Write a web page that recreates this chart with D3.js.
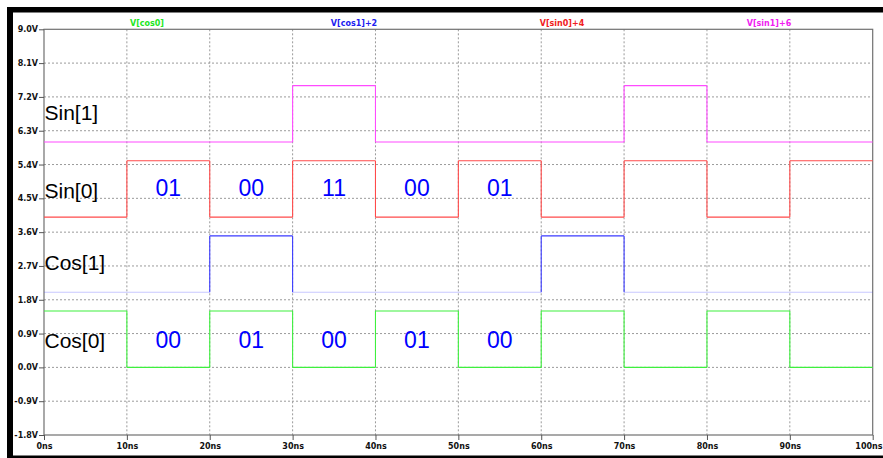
<!DOCTYPE html>
<html>
<head>
<meta charset="utf-8">
<script src="https://cdn.jsdelivr.net/npm/d3@7"></script>
<style>
  html, body { margin: 0; padding: 0; background: #fff; }
  svg { display: block; }
  .tick-label { font-family: "DejaVu Sans", sans-serif; font-weight: bold; font-size: 8px; fill: #111; }
  .trace-name { font-family: "DejaVu Sans", sans-serif; font-weight: bold; font-size: 8px; }
  .row-label { font-family: "Liberation Sans", Arial, sans-serif; font-size: 21px; fill: #000; }
  .code { font-family: "Liberation Sans", Arial, sans-serif; font-size: 23px; fill: #0000ff; }
</style>
</head>
<body>
<script>
// Time segments (ns): each trace value holds from segStart to segStart + 10
const segStart = [0, 10, 20, 30, 40, 50, 60, 70, 80, 90];
const segLen = 10;

// Raw node voltages per segment (V)
const cos0 = [1.5, 0, 1.5, 0, 1.5, 0, 1.5, 0, 1.5, 0];
const cos1 = [0, 0, 1.5, 0, 0, 0, 1.5, 0, 0, 0];
const sin0 = [0, 1.5, 0, 1.5, 0, 1.5, 0, 1.5, 0, 1.5];
const sin1 = [0, 0, 0, 1.5, 0, 0, 0, 1.5, 0, 0];

// Trace expressions and their display offsets (V)
const traceNames = ["V[cos0]", "V[cos1]+2", "V[sin0]+4", "V[sin1]+6"];
const traceOffsets = [0, 2, 4, 6];
const traceColors = ["#3ef03e", "#3a3aff", "#ff4a4a", "#ff4aff"];
const lowOpacity = [1, 0.28, 1, 1];
const nameColors = ["#22e622", "#2020f0", "#f02020", "#f020f0"];
const nameX = [147, 354, 562, 769];

// Axis ticks
const yTicks = [9.0, 8.1, 7.2, 6.3, 5.4, 4.5, 3.6, 2.7, 1.8, 0.9, 0.0, -0.9, -1.8];
const yTickLabels = ["9.0V", "8.1V", "7.2V", "6.3V", "5.4V", "4.5V", "3.6V", "2.7V", "1.8V", "0.9V", "0.0V", "-0.9V", "-1.8V"];
const xTicks = [0, 10, 20, 30, 40, 50, 60, 70, 80, 90, 100];
const xTickLabels = ["0ns", "10ns", "20ns", "30ns", "40ns", "50ns", "60ns", "70ns", "80ns", "90ns", "100ns"];

// Row labels and decoded bit pairs
const rowLabels = ["Sin[1]", "Sin[0]", "Cos[1]", "Cos[0]"];
const rowLabelV = [6.78, 4.72, 2.8, 0.73];
const codeTimes = [15, 25, 35, 45, 55];
const sinCodes = ["01", "00", "11", "00", "01"];
const cosCodes = ["00", "01", "00", "01", "00"];
const sinCodeV = 4.78;
const cosCodeV = 0.73;

const W = 883, H = 458;
const svg = d3.select("body").append("svg").attr("width", W).attr("height", H);

// Window frame bands
svg.append("rect").attr("x", 7).attr("y", 7).attr("width", W - 7).attr("height", 5.5).attr("fill", "#000");
svg.append("rect").attr("x", 7).attr("y", 7).attr("width", 6).attr("height", H - 7).attr("fill", "#000");
svg.append("rect").attr("x", 7).attr("y", 455.5).attr("width", W - 7).attr("height", 3).attr("fill", "#000");

const x = d3.scaleLinear().domain([0, 100]).range([44, 872.7]);
const y = d3.scaleLinear().domain([-1.8, 9.0]).range([435, 29.3]);

// Dotted grid
const grid = svg.append("g").attr("stroke", "#9a9a9a").attr("stroke-width", 1).attr("stroke-dasharray", "2,2");
grid.selectAll("line.v").data(xTicks.slice(1, -1)).join("line")
  .attr("x1", d => x(d)).attr("x2", d => x(d))
  .attr("y1", y(9.0)).attr("y2", y(-1.8));
grid.selectAll("line.h").data(yTicks.slice(1, -1)).join("line")
  .attr("x1", x(0)).attr("x2", x(100))
  .attr("y1", d => y(d)).attr("y2", d => y(d));

// Plot frame
svg.append("rect")
  .attr("x", x(0)).attr("y", y(9.0))
  .attr("width", x(100) - x(0)).attr("height", y(-1.8) - y(9.0))
  .attr("fill", "none").attr("stroke", "#707070").attr("stroke-width", 1.2);

// Axes (tick marks + labels)
const yAxis = d3.axisLeft(y).tickValues(yTicks).tickSize(5).tickPadding(1)
  .tickFormat((d, i) => yTickLabels[i]);
const gy = svg.append("g").attr("transform", `translate(${x(0)},0)`).call(yAxis);
gy.select(".domain").remove();
gy.selectAll(".tick line").attr("stroke", "#555");
gy.selectAll(".tick text").attr("class", "tick-label").attr("font-size", null).attr("font-family", null);

const xAxis = d3.axisBottom(x).tickValues(xTicks).tickSize(5).tickPadding(3)
  .tickFormat((d, i) => xTickLabels[i]);
const gx = svg.append("g").attr("transform", `translate(0,${y(-1.8)})`).call(xAxis);
gx.select(".domain").remove();
gx.selectAll(".tick line").attr("stroke", "#555");
gx.selectAll(".tick text").attr("class", "tick-label").attr("font-size", null).attr("font-family", null);
// keep the last label inside the window
gx.selectAll(".tick text").filter(d => d === 100)
  .attr("text-anchor", "end").attr("x", W - 1 - x(100));

// Traces as step waveforms: flat runs plus transitions
const series = [cos0, cos1, sin0, sin1];
series.forEach((vals, k) => {
  const g = svg.append("g").attr("stroke", traceColors[k]).attr("stroke-width", 1.1).attr("fill", "none");
  const off = traceOffsets[k];
  g.selectAll("line.run").data(vals).join("line")
    .attr("x1", (d, i) => x(segStart[i])).attr("x2", (d, i) => x(segStart[i] + segLen))
    .attr("y1", d => y(d + off)).attr("y2", d => y(d + off))
    .attr("stroke-opacity", d => d === 0 ? lowOpacity[k] : 1);
  const edges = vals.slice(1).map((v, i) => ({ t: segStart[i + 1], a: vals[i], b: v }))
    .filter(e => e.a !== e.b);
  g.selectAll("line.edge").data(edges).join("line")
    .attr("x1", e => x(e.t)).attr("x2", e => x(e.t))
    .attr("y1", e => y(e.a + off)).attr("y2", e => y(e.b + off));
});

// Trace names above the plot
svg.selectAll("text.trace-name").data(traceNames).join("text")
  .attr("class", "trace-name")
  .attr("x", (d, i) => nameX[i]).attr("y", 25.5)
  .attr("text-anchor", "middle")
  .attr("fill", (d, i) => nameColors[i])
  .text(d => d);

// Row labels
svg.selectAll("text.row-label").data(rowLabels).join("text")
  .attr("class", "row-label")
  .attr("x", 44.5).attr("y", (d, i) => y(rowLabelV[i]))
  .attr("dy", "0.36em")
  .text(d => d);

// Decoded bit pairs
svg.selectAll("text.sin-code").data(sinCodes).join("text")
  .attr("class", "code")
  .attr("x", (d, i) => x(codeTimes[i])).attr("y", y(sinCodeV))
  .attr("dy", "0.36em").attr("text-anchor", "middle")
  .text(d => d);
svg.selectAll("text.cos-code").data(cosCodes).join("text")
  .attr("class", "code")
  .attr("x", (d, i) => x(codeTimes[i])).attr("y", y(cosCodeV))
  .attr("dy", "0.36em").attr("text-anchor", "middle")
  .text(d => d);
</script>
</body>
</html>
